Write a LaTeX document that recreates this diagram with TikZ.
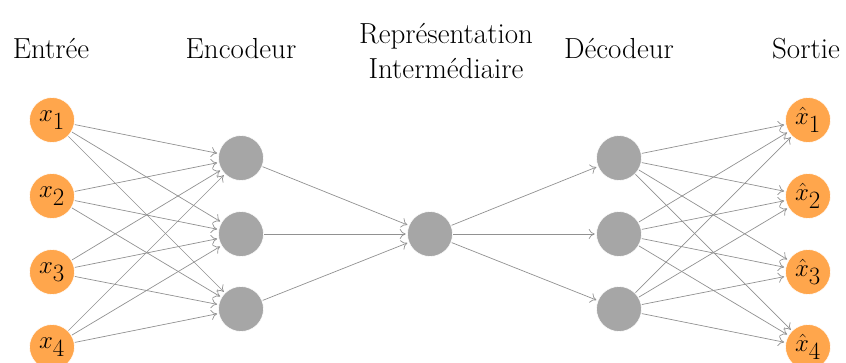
\documentclass[tikz,border=0pt]{standalone}
\usetikzlibrary{arrows.meta}
\begin{document}
\begin{tikzpicture}[x=1pt,y=-1pt,
  neuronbase/.style={circle,inner sep=0pt,minimum size=45pt,draw=white,line width=0.6pt},
  io/.style={neuronbase,fill=orange!70,font=\fontsize{33}{38}\selectfont},
  hid/.style={neuronbase,fill=gray!70},
  lbl/.style={font=\fontsize{29}{35}\selectfont,align=center,inner sep=0pt},
  conn/.style={draw={rgb,255:red,145;green,145;blue,145},line width=0.7pt,
    -{To[length=6pt,width=10pt]},shorten >=1.5pt,shorten <=0.5pt}]
\useasboundingbox (0,0) rectangle (846,363);
% labels
\node[lbl] (lin) at (51,49) {Entrée};
\node[lbl] (lenc) at (241,49) {Encodeur};
\node[lbl] (lmid) at (446,51) {Représentation\\Intermédiaire};
\node[lbl] (ldec) at (619,49) {Décodeur};
\node[lbl] (lout) at (806,49) {Sortie};
% nodes
\foreach \i/\y in {1/120,2/196,3/272,4/347}{
  \node[io] (x\i) at (52,\y) {$x_{\i}$};
  \node[io] (o\i) at (808,\y) {$\hat{x}_{\i}$};
}
\foreach \j/\y in {1/158,2/234,3/309}{
  \node[hid] (h\j) at (241,\y) {};
  \node[hid] (d\j) at (619,\y) {};
}
\node[hid] (m) at (430,234) {};
% connections
\foreach \i in {1,...,4}{
  \foreach \j in {1,2,3}{
    \draw[conn] (x\i) -- (h\j);
    \draw[conn] (d\j) -- (o\i);
  }
}
\foreach \j in {1,2,3}{
  \draw[conn] (h\j) -- (m);
  \draw[conn] (m) -- (d\j);
}
\end{tikzpicture}
\end{document}
